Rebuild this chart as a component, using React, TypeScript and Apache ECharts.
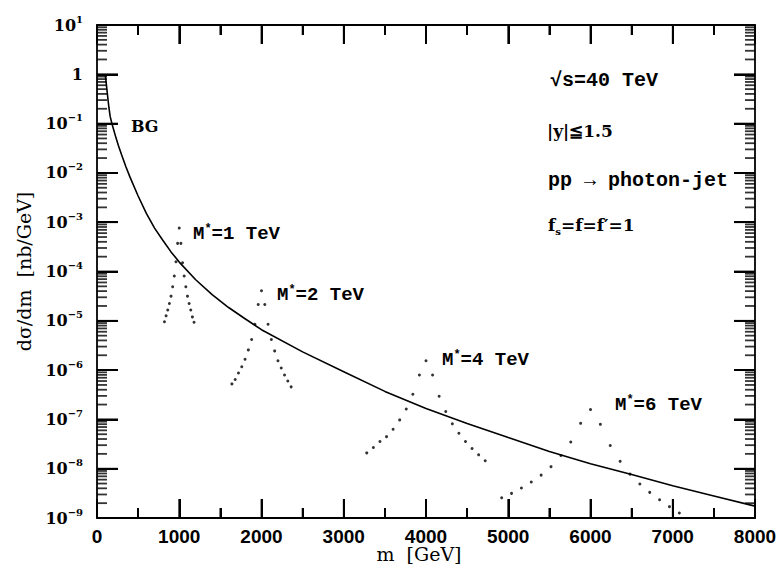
import React, { useEffect, useRef } from "react";
import * as echarts from "echarts";

// Background (BG) curve: invariant mass [GeV] and dσ/dm [nb/GeV]
const bgMass = [100, 115, 130, 145, 160, 180, 200, 230, 260, 300, 350, 400, 500, 600, 700, 800, 900, 1000, 1200, 1400, 1600, 1800, 2000, 2500, 3000, 3500, 4000, 4500, 5000, 5500, 6000, 6500, 7000, 7500, 8000];
const bgXsec = [1.0, 0.6, 0.35, 0.21, 0.14, 0.102, 0.078, 0.052, 0.036, 0.023, 0.0135, 8.3e-3, 3.4e-3, 1.51e-3, 7.6e-4, 4.3e-4, 2.5e-4, 1.55e-4, 6.8e-5, 3.4e-5, 1.86e-5, 1.1e-5, 6.6e-6, 2.34e-6, 9.3e-7, 3.7e-7, 1.66e-7, 8.3e-8, 4.3e-8, 2.24e-8, 1.26e-8, 7.6e-9, 4.5e-9, 2.8e-9, 1.74e-9];

// Excited-quark signal peaks (dotted)
const m1Mass = [820, 840, 860, 880, 900, 920, 940, 960, 980, 1000, 1020, 1040, 1060, 1080, 1100, 1120, 1140, 1160, 1180];
const m1Xsec = [9.55e-6, 1.26e-5, 1.66e-5, 2.24e-5, 3.16e-5, 4.9e-5, 8.13e-5, 1.58e-4, 3.72e-4, 7.59e-4, 3.72e-4, 1.51e-4, 8.13e-5, 4.9e-5, 3.16e-5, 2.24e-5, 1.66e-5, 1.2e-5, 9.33e-6];

const m2Mass = [1640, 1680, 1720, 1760, 1800, 1840, 1880, 1920, 1960, 2000, 2040, 2080, 2120, 2160, 2200, 2240, 2280, 2320, 2360];
const m2Xsec = [5.25e-7, 6.46e-7, 8.71e-7, 1.17e-6, 1.66e-6, 2.57e-6, 4.17e-6, 8.51e-6, 2.14e-5, 4.07e-5, 2.14e-5, 8.51e-6, 4.17e-6, 2.45e-6, 1.55e-6, 1.1e-6, 7.94e-7, 6.03e-7, 4.57e-7];

const m4Mass = [3280, 3360, 3440, 3520, 3600, 3680, 3760, 3840, 3920, 4000, 4080, 4160, 4240, 4320, 4400, 4480, 4560, 4640, 4720];
const m4Xsec = [2.09e-8, 2.69e-8, 3.55e-8, 4.47e-8, 6.31e-8, 9.77e-8, 1.62e-7, 3.24e-7, 7.94e-7, 1.55e-6, 7.94e-7, 2.95e-7, 1.45e-7, 8.13e-8, 5.25e-8, 3.55e-8, 2.57e-8, 1.91e-8, 1.45e-8];

const m6Mass = [4920, 5040, 5160, 5280, 5400, 5520, 5640, 5760, 5880, 6000, 6120, 6240, 6360, 6480, 6600, 6720, 6840, 6960, 7080];
const m6Xsec = [2.57e-9, 3.16e-9, 4.07e-9, 5.37e-9, 7.41e-9, 1.1e-8, 1.86e-8, 3.47e-8, 8.32e-8, 1.58e-7, 7.94e-8, 2.95e-8, 1.41e-8, 7.76e-9, 4.9e-9, 3.31e-9, 2.34e-9, 1.7e-9, 1.26e-9];

// Axis ranges / ticks
const xMin = 0;
const xMax = 8000;
const xStep = 1000;
const xMajorTicks = [0, 1000, 2000, 3000, 4000, 5000, 6000, 7000, 8000];
const xMinorTicks = [500, 1500, 2500, 3500, 4500, 5500, 6500, 7500];
const yMin = 1.0001e-9;
const yMax = 10;
const yDecades = [1e-9, 1e-8, 1e-7, 1e-6, 1e-5, 1e-4, 1e-3, 1e-2, 1e-1, 1, 10];
const minorMantissas = [2, 3, 4, 5, 6, 7, 8, 9];
const decadeExponents = [-9, -8, -7, -6, -5, -4, -3, -2, -1, 0];

const zip = (xs: number[], ys: number[]) => xs.map((x, i) => [x, ys[i]]);

export default function App() {
  const ref = useRef<HTMLDivElement>(null);

  useEffect(() => {
    if (!ref.current) return;
    const chart = echarts.init(ref.current, null, { renderer: "svg" });

    const minorTickValues: number[] = [];
    decadeExponents.forEach((e) => minorMantissas.forEach((m) => minorTickValues.push(m * Math.pow(10, e))));

    const black = "#000";
    const axisLineStyle = () => ({ color: black, width: 1.8 });
    const tickStyle = () => ({ color: black, width: 2 });

    const yLabelRich = {
      b: { fontFamily: "DejaVu Serif", fontSize: 16, fontWeight: "bold", color: black, lineHeight: 22 },
      e: { fontFamily: "DejaVu Serif", fontSize: 10, fontWeight: "bold", color: black, lineHeight: 9, verticalAlign: "top" },
    };
    const yFormatter = (v: number) => {
      const e = Math.round(Math.log10(v));
      if (e === 0) return "{b|1}";
      return `{b|10}{e|${e < 0 ? "\u2212" + -e : e}}`;
    };

    const dotSeries = (name: string, xs: number[], ys: number[]) => ({
      name,
      type: "scatter",
      data: zip(xs, ys),
      symbol: "circle",
      symbolSize: 3,
      itemStyle: { color: black },
      z: 4,
    });

    const tickSeries = (name: string, data: number[][], size: number[], offset: number[]) => ({
      name,
      type: "scatter",
      silent: true,
      clip: false,
      data,
      symbol: "rect",
      symbolSize: size,
      symbolOffset: offset,
      itemStyle: { color: black },
      z: 2,
    });

    const mLabel = (x: number, y: number, txt: string) => ({
      type: "text",
      x,
      y,
      style: {
        text: `{a|M}{s|*}{a|${txt}}`,
        verticalAlign: "middle",
        rich: {
          a: { fontFamily: "Liberation Mono", fontSize: 19, fontWeight: "bold", fill: black, lineHeight: 22 },
          s: { fontFamily: "Liberation Mono", fontSize: 12, fontWeight: "bold", fill: black, lineHeight: 9, verticalAlign: "top" },
        },
      },
    });

    const xAxisBase = () => ({
      type: "value",
      min: xMin,
      max: xMax,
      interval: xStep,
      axisLine: { show: true, onZero: false, lineStyle: axisLineStyle() },
      axisTick: { show: true, inside: true, length: 19, lineStyle: tickStyle() },
      minorTick: { show: true, splitNumber: 2, length: 10, lineStyle: tickStyle() },
      splitLine: { show: false },
    });
    const yAxisBase = () => ({
      type: "log",
      logBase: 10,
      min: yMin,
      max: yMax,
      splitNumber: 10,
      axisLine: { show: true, onZero: false, lineStyle: axisLineStyle() },
      axisTick: { show: true, inside: true, length: 21, lineStyle: tickStyle() },
      splitLine: { show: false },
    });

    const textGraphics: any[] = [
      {
        type: "text",
        x: 131,
        y: 126,
        style: { text: "BG", fontFamily: "DejaVu Serif", fontSize: 16, fontWeight: "bold", fill: black, verticalAlign: "middle" },
      },
      mLabel(193, 234, "=1 TeV"),
      mLabel(277, 295, "=2 TeV"),
      mLabel(442, 360, "=4 TeV"),
      mLabel(615, 405, "=6 TeV"),
      {
        type: "text",
        x: 550,
        y: 80,
        style: { text: "\u221as=40 TeV", fontFamily: "Liberation Mono", fontSize: 20, fontWeight: "bold", fill: black, verticalAlign: "middle" },
      },
      {
        type: "text",
        x: 547,
        y: 131,
        style: { text: "|y|\u22661.5", fontFamily: "DejaVu Serif", fontSize: 17, fontWeight: "bold", fill: black, verticalAlign: "middle" },
      },
      {
        type: "text",
        x: 548,
        y: 180,
        style: { text: "pp \u2192 photon-jet", fontFamily: "Liberation Mono", fontSize: 20, fontWeight: "bold", fill: black, verticalAlign: "middle" },
      },
      {
        type: "text",
        x: 548,
        y: 225,
        style: {
          text: "{a|f}{s|s}{a|=f=f\u2032=1}",
          verticalAlign: "middle",
          rich: {
            a: { fontFamily: "DejaVu Serif", fontSize: 17, fontWeight: "bold", fill: black, lineHeight: 22 },
            s: { fontFamily: "DejaVu Serif", fontSize: 10, fontWeight: "bold", fill: black, lineHeight: 14, verticalAlign: "bottom" },
          },
        },
      },
      {
        type: "text",
        x: 419,
        y: 554,
        style: { text: "m  [GeV]", fontFamily: "DejaVu Serif", fontSize: 19, fill: black, align: "center", verticalAlign: "middle" },
      },
    ];

    const option: any = {
      animation: false,
      grid: { left: 97, right: 27, top: 25, bottom: 51, outerBoundsMode: "none" },
      xAxis: [
        {
          ...xAxisBase(),
          position: "bottom",
          axisLabel: {
            margin: 9,
            color: black,
            fontFamily: "Liberation Sans",
            fontWeight: "bold",
            fontSize: 19,
            formatter: (v: number) => String(v),
          },
        },
        {
          ...xAxisBase(),
          position: "top",
          axisLabel: { show: true, color: "rgba(0,0,0,0)", formatter: () => "" },
        },
      ],
      yAxis: [
        {
          ...yAxisBase(),
          position: "left",
          name: "d\u03c3/dm  [nb/GeV]",
          nameLocation: "middle",
          nameRotate: 90,
          nameGap: 64,
          nameTextStyle: { fontFamily: "DejaVu Serif", fontSize: 19, color: black },
          axisLabel: { margin: 14, formatter: yFormatter, rich: yLabelRich },
        },
        {
          ...yAxisBase(),
          position: "right",
          axisLabel: { show: true, color: "rgba(0,0,0,0)", formatter: () => "" },
        },
      ],
      series: [
        tickSeries("yMinorLeft", minorTickValues.map((v) => [xMin, v]), [10, 1.8], [5, 0]),
        tickSeries("yMinorRight", minorTickValues.map((v) => [xMax, v]), [10, 1.8], [-5, 0]),
        {
          name: "BG",
          type: "line",
          data: zip(bgMass, bgXsec),
          showSymbol: false,
          smooth: false,
          lineStyle: { color: black, width: 1.6 },
          z: 3,
        },
        dotSeries("M*=1 TeV", m1Mass, m1Xsec),
        dotSeries("M*=2 TeV", m2Mass, m2Xsec),
        dotSeries("M*=4 TeV", m4Mass, m4Xsec),
        dotSeries("M*=6 TeV", m6Mass, m6Xsec),
      ],
      graphic: { elements: textGraphics },
    };

    chart.setOption(option);

    // Major tick marks: positions obtained from the axes' own scales
    const finder = { xAxisIndex: 0, yAxisIndex: 0 };
    const toPx = (x: number, y: number) => chart.convertToPixel(finder as any, [x, y]) as number[];
    const tickLines: any[] = [];
    const line = (x1: number, y1: number, x2: number, y2: number) => ({
      type: "line",
      silent: true,
      z: 50,
      shape: { x1, y1, x2, y2 },
      style: { stroke: black, lineWidth: 1.8 },
    });
    yDecades.forEach((v) => {
      const l = toPx(xMin, v);
      const r = toPx(xMax, v);
      if (l && r && isFinite(l[1])) {
        tickLines.push(line(l[0], l[1], l[0] + 21, l[1]));
        tickLines.push(line(r[0] - 21, r[1], r[0], r[1]));
      }
    });
    xMajorTicks.forEach((x) => {
      const b = toPx(x, yMin);
      const t = toPx(x, yMax);
      if (b && t) {
        tickLines.push(line(b[0], b[1], b[0], b[1] - 19));
        tickLines.push(line(t[0], t[1], t[0], t[1] + 19));
      }
    });
    xMinorTicks.forEach((x) => {
      const b = toPx(x, yMin);
      const t = toPx(x, yMax);
      if (b && t) {
        tickLines.push(line(b[0], b[1], b[0], b[1] - 10));
        tickLines.push(line(t[0], t[1], t[0], t[1] + 10));
      }
    });
    chart.setOption({ graphic: { elements: [...textGraphics, ...tickLines] } });

    return () => chart.dispose();
  }, []);

  return (
    <div
      ref={ref}
      style={{ position: "fixed", left: 0, top: 0, width: 782, height: 569, background: "#fff" }}
    />
  );
}
